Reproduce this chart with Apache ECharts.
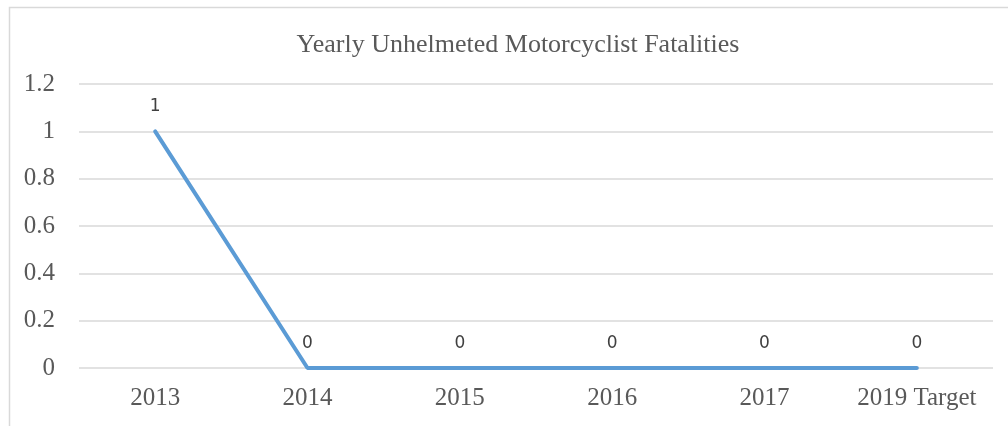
<!DOCTYPE html>
<html>
<head>
<meta charset="utf-8">
<script src="https://cdn.jsdelivr.net/npm/echarts@6/dist/echarts.min.js"></script>
<style>
  html, body { margin: 0; padding: 0; background: #fff; }
  #chart { width: 1008px; height: 426px; }
</style>
</head>
<body>
<div id="chart"></div>
<script>
let years = ['2013', '2014', '2015', '2016', '2017', '2019 Target'];
let fatalities = [1, 0, 0, 0, 0, 0];
let chartTitle = 'Yearly Unhelmeted Motorcyclist Fatalities';

let myChart = echarts.init(document.getElementById('chart'));

let option = {
    backgroundColor: '#fff',
    animation: false,
    title: {
        text: chartTitle,
        left: 513,
        top: 27,
        textAlign: 'center',
        textStyle: {
            fontFamily: 'Liberation Serif',
            fontSize: 26,
            fontWeight: 'normal',
            color: '#595959'
        }
    },
    graphic: [{
        type: 'rect',
        shape: { x: 9.5, y: 7.5, width: 1020, height: 440 },
        style: { fill: 'none', stroke: '#d9d9d9', lineWidth: 1.5 },
        silent: true
    }],
    grid: { left: 79, right: 15, top: 84, bottom: 58 },
    xAxis: {
        type: 'category',
        data: years,
        boundaryGap: true,
        axisLine: { show: false },
        axisTick: { show: false },
        axisLabel: {
            interval: 0,
            margin: 18,
            fontFamily: 'Liberation Serif',
            fontSize: 25,
            color: '#595959'
        }
    },
    yAxis: {
        type: 'value',
        min: 0,
        max: 1.2,
        interval: 0.2,
        axisLine: { show: false },
        axisTick: { show: false },
        splitLine: { lineStyle: { color: '#d9d9d9', width: 1.5 } },
        axisLabel: {
            margin: 24,
            fontFamily: 'Liberation Serif',
            fontSize: 25,
            color: '#595959',
            formatter: function (v) { return String(Math.round(v * 10) / 10); }
        }
    },
    series: [{
        type: 'line',
        data: fatalities,
        symbol: 'circle',
        symbolSize: 0,
        showSymbol: true,
        lineStyle: { color: '#5B9BD5', width: 4, cap: 'round' },
        itemStyle: { color: '#5B9BD5' },
        label: {
            show: true,
            position: 'top',
            distance: 16,
            fontFamily: 'DejaVu Sans',
            fontSize: 17,
            color: '#404040'
        }
    }]
};

myChart.setOption(option);
</script>
</body>
</html>
